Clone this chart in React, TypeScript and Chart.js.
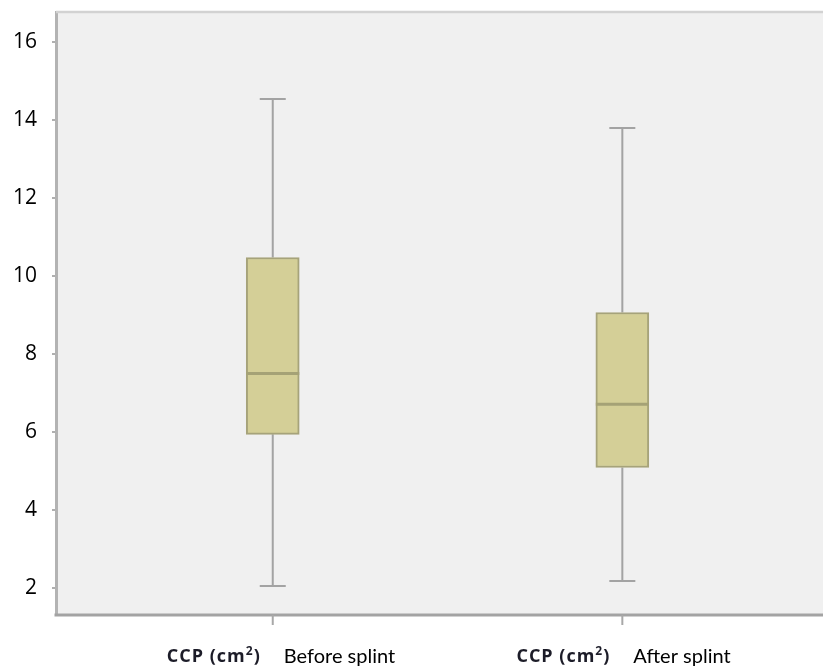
import React, { useEffect, useRef } from "react";
import { Chart, registerables } from "chart.js";

Chart.register(...registerables);

const groups = ["Before splint", "After splint"];
const unitLabel = "CCP (cm";
const positions = [1, 2];
const whiskerMin = [2.06, 2.19];
const q1 = [5.95, 5.1];
const median = [7.51, 6.72];
const q3 = [10.48, 9.07];
const whiskerMax = [14.54, 13.8];
const yTicks = [2, 4, 6, 8, 10, 12, 14, 16];

const boxPlugin = {
  id: "boxExtras",
  beforeDraw(chart: any) {
    const { ctx, chartArea } = chart;
    ctx.save();
    ctx.fillStyle = "#f0f0f0";
    ctx.fillRect(chartArea.left, chartArea.top, chart.width - chartArea.left, chartArea.bottom - chartArea.top);
    ctx.restore();
  },
  beforeDatasetsDraw(chart: any) {
    const { ctx, scales } = chart;
    const xs = scales.x;
    const ys = scales.y;
    ctx.save();
    ctx.strokeStyle = "#a3a3a3";
    ctx.lineWidth = 2;
    positions.forEach((p, i) => {
      const x = xs.getPixelForValue(p);
      const capHalf = 13;
      const yMin = ys.getPixelForValue(whiskerMin[i]);
      const yMax = ys.getPixelForValue(whiskerMax[i]);
      const yQ1 = ys.getPixelForValue(q1[i]);
      const yQ3 = ys.getPixelForValue(q3[i]);
      ctx.beginPath();
      ctx.moveTo(x, yMin);
      ctx.lineTo(x, yQ1);
      ctx.moveTo(x, yQ3);
      ctx.lineTo(x, yMax);
      ctx.moveTo(x - capHalf, yMin);
      ctx.lineTo(x + capHalf, yMin);
      ctx.moveTo(x - capHalf, yMax);
      ctx.lineTo(x + capHalf, yMax);
      ctx.stroke();
    });
    ctx.restore();
  },
  afterDatasetsDraw(chart: any) {
    const { ctx, scales } = chart;
    const xs = scales.x;
    const ys = scales.y;
    const meta = chart.getDatasetMeta(0);
    ctx.save();
    ctx.strokeStyle = "#a5a276";
    ctx.lineWidth = 3;
    positions.forEach((p, i) => {
      const bar: any = meta.data[i];
      const half = bar.width / 2;
      const x = xs.getPixelForValue(p);
      const y = ys.getPixelForValue(median[i]);
      ctx.beginPath();
      ctx.moveTo(x - half, y);
      ctx.lineTo(x + half, y);
      ctx.stroke();
    });
    ctx.restore();
  },
  afterDraw(chart: any) {
    const { ctx, scales, chartArea } = chart;
    const xs = scales.x;
    ctx.save();
    // keep the plot open on the right side, as in the cropped original
    ctx.fillStyle = "#f0f0f0";
    ctx.fillRect(chart.width - 6, chartArea.top, 6, chartArea.bottom - chartArea.top);
    // top frame line
    ctx.strokeStyle = "#d2d2d2";
    ctx.lineWidth = 2.5;
    ctx.beginPath();
    ctx.moveTo(chartArea.left, chartArea.top);
    ctx.lineTo(chart.width, chartArea.top);
    ctx.stroke();
    // bottom axis line
    ctx.strokeStyle = "#a3a3a3";
    ctx.lineWidth = 3;
    ctx.beginPath();
    ctx.moveTo(chartArea.left - 1.5, chartArea.bottom);
    ctx.lineTo(chart.width, chartArea.bottom);
    ctx.stroke();
    ctx.strokeStyle = "#a8a8a8";
    ctx.lineWidth = 2;
    positions.forEach((p) => {
      const x = xs.getPixelForValue(p);
      ctx.beginPath();
      ctx.moveTo(x, chartArea.bottom);
      ctx.lineTo(x, chartArea.bottom + 10);
      ctx.stroke();
    });
    const baseY = 662;
    positions.forEach((p, i) => {
      const x = xs.getPixelForValue(p);
      ctx.fillStyle = "#1c1c28";
      ctx.textBaseline = "alphabetic";
      const boldFont = "bold 18px 'Open Sans', sans-serif";
      const supFont = "bold 12px 'Open Sans', sans-serif";
      (ctx as any).letterSpacing = "1px";
      ctx.font = boldFont;
      const w1 = ctx.measureText(unitLabel).width;
      const w3 = ctx.measureText(")").width;
      ctx.font = supFont;
      const w2 = ctx.measureText("2").width;
      const total = w1 + w2 + w3;
      let sx = x - 12 - total;
      ctx.textAlign = "left";
      ctx.font = boldFont;
      ctx.fillText(unitLabel, sx, baseY);
      sx += w1;
      ctx.font = supFont;
      ctx.fillText("2", sx, baseY - 7);
      sx += w2;
      ctx.font = boldFont;
      ctx.fillText(")", sx, baseY);
      (ctx as any).letterSpacing = "0px";
      ctx.fillStyle = "#000000";
      ctx.font = "20px Lato, sans-serif";
      ctx.fillText(groups[i], x + 11, baseY + 1);
    });
    ctx.restore();
  },
};

export default function App() {
  const ref = useRef<HTMLCanvasElement>(null);
  useEffect(() => {
    document.body.style.margin = "0";
    const canvas = ref.current!;
    const chart = new Chart(canvas, {
      type: "bar",
      data: {
        datasets: [
          {
            data: positions.map((p, i) => ({ x: p, y: [q1[i], q3[i]] })) as any,
            backgroundColor: "#d4cf97",
            borderColor: "#a6a37a",
            borderWidth: 2,
            borderSkipped: false,
            barThickness: 53,
          },
        ],
      },
      options: {
        responsive: false,
        animation: false,
        layout: { padding: { top: 12, right: 0, left: 0, bottom: 0 } },
        plugins: { legend: { display: false }, tooltip: { enabled: false } },
        scales: {
          x: {
            type: "linear",
            offset: false,
            min: 0.38,
            max: 2.574,
            grid: { display: false, drawTicks: false, offset: false },
            border: { display: false },
            ticks: { display: false },
            afterFit: (s: any) => {
              s.height = 669 - 615;
              s.paddingLeft = 0;
              s.paddingRight = 0;
            },
          },
          y: {
            min: 1.32,
            max: 16.77,
            afterBuildTicks: (s: any) => {
              s.ticks = yTicks.map((v) => ({ value: v }));
            },
            grid: { drawOnChartArea: false, drawTicks: true, tickLength: 4, color: "#b0b0b0", lineWidth: 2 },
            border: { display: true, color: "#b3b3b3", width: 3 },
            ticks: {
              padding: 15,
              color: "#000000",
              font: { family: "'Open Sans', sans-serif", size: 21 },
            },
            afterFit: (s: any) => {
              s.width = 56;
              s.paddingTop = 0;
              s.paddingBottom = 0;
            },
          },
        },
      },
      plugins: [boxPlugin],
    });
    return () => chart.destroy();
  }, []);
  return <canvas ref={ref} width={823} height={669} style={{ display: "block" }} />;
}
